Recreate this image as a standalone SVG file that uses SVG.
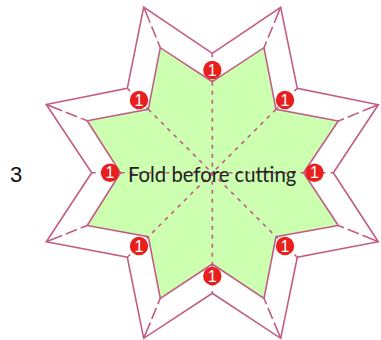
<svg xmlns="http://www.w3.org/2000/svg" width="381" height="340" viewBox="0 0 381 340">
<defs>
<style>
.line{fill:none;stroke:#c25c86;stroke-width:1.6;stroke-linejoin:miter}
.fold{fill:none;stroke:#c25c86;stroke-width:1.6;stroke-dasharray:4 5}
.cut{fill:none;stroke:#c25c86;stroke-width:1.6;stroke-dasharray:17 4 12 4}
.b{fill:#e81f1c}
.bt{font-family:"Liberation Sans",Arial,sans-serif;font-size:16px;fill:#fff;text-anchor:middle}
.t{font-family:"Lato","Liberation Sans",sans-serif;fill:#222}
</style>
</defs>
<text id="step-number" x="10" y="182" font-size="22" style="font-family:'Liberation Sans',Arial,sans-serif;fill:#111">3</text>
<g id="outer-star"><path class="line" d="M212.3 53.3L280.7 7.3L297.3 88.3L378.3 104.7L333.3 172.7L378.3 241.7L297.3 257.3L280.7 338.3L212.3 293.3L143.7 338.3L127.3 257.3L46.3 241.7L91.7 172.7L46.3 104.5L127.3 88.3L143.7 7Z"/></g>
<g id="inner-star"><path d="M212.3 81.7L264 47.7L276 109.3L338.3 121L303.5 172.7L338.3 225.5L276 236.7L264 298.3L212.3 264L160.3 298.3L148.3 236.7L87.2 225.5L120.5 172.7L87.2 120.7L148.3 109.3L160.3 47.7Z" fill="#ccffb0" stroke="#c25c86" stroke-width="1.6"/></g>
<g id="connectors">
<path class="fold" d="M212.3 81.7V264M276 109.3L148.3 236.7M148.3 109.3L276 236.7M120.5 172.7H303.5"/>
<path class="fold" d="M212.3 53.3V81.7M212.3 264V293.3M297.3 88.3L276 109.3M127.3 88.3L148.3 109.3M127.3 257.3L148.3 236.7M297.3 257.3L276 236.7M91.7 172.7H120.5M303.5 172.7H333.3"/>
<path class="cut" d="M280.7 7.3L264 47.7M378.3 104.7L338.3 121M378.3 241.7L338.3 225.5M280.7 338.3L264 298.3M143.7 338.3L160.3 298.3M46.3 241.7L87.2 225.5M46.3 104.5L87.2 120.7M143.7 7L160.3 47.7"/>
</g>
<g id="badge-top"><circle class="b" cx="212.3" cy="70" r="9.2"/><text class="bt" x="212.3" y="75.7">1</text></g>
<g id="badge-top-right"><circle class="b" cx="285" cy="100" r="9.2"/><text class="bt" x="285" y="105.7">1</text></g>
<g id="badge-right"><circle class="b" cx="314.5" cy="172.7" r="9.2"/><text class="bt" x="314.5" y="178.4">1</text></g>
<g id="badge-bottom-right"><circle class="b" cx="285" cy="246" r="9.2"/><text class="bt" x="285" y="251.7">1</text></g>
<g id="badge-bottom"><circle class="b" cx="212.3" cy="276" r="9.2"/><text class="bt" x="212.3" y="281.7">1</text></g>
<g id="badge-bottom-left"><circle class="b" cx="139" cy="246" r="9.2"/><text class="bt" x="139" y="251.7">1</text></g>
<g id="badge-left"><circle class="b" cx="110" cy="172.7" r="9.2"/><text class="bt" x="110" y="178.4">1</text></g>
<g id="badge-top-left"><circle class="b" cx="139" cy="100" r="9.2"/><text class="bt" x="139" y="105.7">1</text></g>
<text id="label" class="t" x="128" y="182" font-size="20.3">Fold before cutting</text>
</svg>
